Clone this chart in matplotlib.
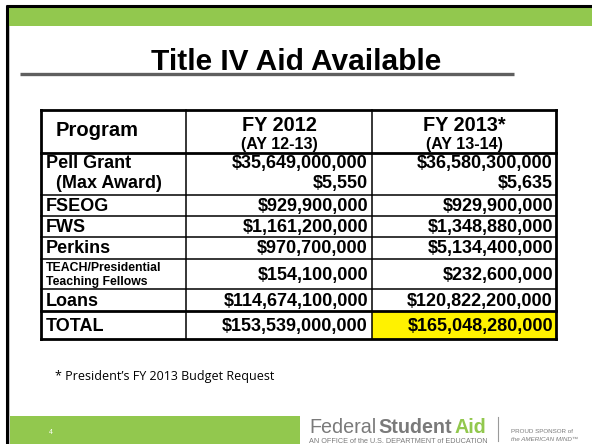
import matplotlib
matplotlib.use("Agg")
import matplotlib.pyplot as plt
from matplotlib.patches import Rectangle

# ---- data ----
title = "Title IV Aid Available"
col_headers = ["Program", "FY 2012", "FY 2013*"]
col_subheaders = ["", "(AY 12-13)", "(AY 13-14)"]
programs = ["Pell Grant", "(Max Award)", "FSEOG", "FWS", "Perkins",
            "TEACH/Presidential\nTeaching Fellows", "Loans", "TOTAL"]
fy2012 = [35649000000, 5550, 929900000, 1161200000, 970700000,
          154100000, 114674100000, 153539000000]
fy2013 = [36580300000, 5635, 929900000, 1348880000, 5134400000,
          232600000, 120822200000, 165048280000]
footnote = "* President\u2019s FY 2013 Budget Request"
page_number = "4"
logo_words = ["Federal", "Student", "Aid"]
logo_caption = "AN OFFICE of the U.S. DEPARTMENT of EDUCATION"
sponsor_lines = ["PROUD SPONSOR of", "the AMERICAN MIND\u2122"]

# ---- layout ----
W, H = 592, 444
GREEN = "#92C84E"
fig = plt.figure(figsize=(W / 100, H / 100), dpi=100)
ax = fig.add_axes([0, 0, 1, 1])
ax.set_xlim(0, W)
ax.set_ylim(H, 0)
ax.axis("off")
fig.canvas.draw()
renderer = fig.canvas.get_renderer()

FONT = "Liberation Sans"


def width_px(t):
    bb = t.get_window_extent(renderer)
    return bb.x1 - bb.x0


def fit_text(x, y, s, target_w, fs0, **kw):
    t = ax.text(x, y, s, fontsize=fs0, **kw)
    w = width_px(t)
    t.set_fontsize(fs0 * target_w / w)
    return t


# slide frame and header band
ax.add_patch(Rectangle((7, 7), W - 7, 19, color=GREEN, lw=0))
ax.plot([6, W], [6, 6], color="black", lw=2.2, solid_capstyle="butt")
ax.plot([7, 7], [5, H], color="black", lw=2.2, solid_capstyle="butt")
ax.plot([9.0, 9.0], [26, H], color="#c0c0c0", lw=0.7)

# title and rule
ax.text(296, 62, title, ha="center", va="center", fontsize=21.5,
        fontweight="bold", family=FONT, color="black")
ax.plot([20, 514], [74, 74], color="#5f5f5f", lw=2.4, solid_capstyle="butt")

# table geometry
x_left, x_c1, x_c2, x_right = 41, 186, 372, 556
y_top, y_head = 110, 153
row_bounds = [153, 195, 216, 237, 259, 289, 311, 339]
text_y = [163, 183, 206, 227, 248, 275, 301, 326]

# yellow total cell
ax.add_patch(Rectangle((x_c2, row_bounds[6]), x_right - x_c2,
                       row_bounds[7] - row_bounds[6], color="#FFF200", lw=0, zorder=1))

thin, thick = 1.1, 2.0
ax.plot([x_left, x_right], [y_top, y_top], color="black", lw=thick, zorder=3)
ax.plot([x_left, x_right], [y_head, y_head], color="black", lw=thick, zorder=3)
for i, yb in enumerate(row_bounds[1:]):
    lw = thick if i in (5, 6) else thin
    ax.plot([x_left, x_right], [yb, yb], color="black", lw=lw, zorder=3)
for xv in (x_left, x_right):
    ax.plot([xv, xv], [y_top, row_bounds[-1]], color="black", lw=thick, zorder=3)
for xv in (x_c1, x_c2):
    ax.plot([xv, xv], [y_top, row_bounds[-1]], color="black", lw=thin, zorder=3)

# header text
ax.text(56, 130, col_headers[0], ha="left", va="center", fontsize=14.5,
        fontweight="bold", family=FONT)
for xc, h, s in [((x_c1 + x_c2) / 2, col_headers[1], col_subheaders[1]),
                 ((x_c2 + x_right) / 2, col_headers[2], col_subheaders[2])]:
    ax.text(xc, 125, h, ha="center", va="center", fontsize=14.3,
            fontweight="bold", family=FONT)
    ax.text(xc, 144, s, ha="center", va="center", fontsize=11.5,
            fontweight="bold", family=FONT)

# body text
for i, (p, v1, v2) in enumerate(zip(programs, fy2012, fy2013)):
    y = text_y[i]
    if "\n" in p:
        ax.text(46, y, p, ha="left", va="center", fontsize=8.8,
                fontweight="bold", family=FONT, linespacing=1.2)
    else:
        xl = 56 if p.startswith("(") else 46
        ax.text(xl, y, p, ha="left", va="center", fontsize=13,
                fontweight="bold", family=FONT)
    ax.text(x_c2 - 4, y, f"${v1:,.0f}", ha="right", va="center",
            fontsize=13, fontweight="bold", family=FONT, zorder=4)
    ax.text(x_right - 3, y, f"${v2:,.0f}", ha="right", va="center",
            fontsize=13, fontweight="bold", family=FONT, zorder=4)

# footnote
ax.text(55, 376, footnote, ha="left", va="center", fontsize=9,
        family="Open Sans", color="black")

# footer
ax.add_patch(Rectangle((9.5, 416), 290, H - 416, color=GREEN, lw=0))
ax.text(49, 432, page_number, ha="left", va="center", fontsize=5,
        color="white", family=FONT)

# logo: fit "Federal Student Aid" into x 309..487
logo_x0, logo_x1, logo_y = 309, 487, 427
styles = [dict(color="#7a7a7a", fontweight="normal"),
          dict(color="#7a7a7a", fontweight="bold"),
          dict(color=GREEN, fontweight="bold")]
fs = 15.0
parts = []
for w, st in zip(logo_words, styles):
    parts.append(ax.text(0, logo_y, w, ha="left", va="center", fontsize=fs,
                         family=FONT, **st))
gap = 2.5
total = sum(width_px(t) for t in parts) + gap * (len(parts) - 1)
scale = (logo_x1 - logo_x0) / total
x = logo_x0
for t in parts:
    t.set_fontsize(fs * scale)
    t.set_x(x)
    x += width_px(t) + gap
fit_text(logo_x0, 441, logo_caption, logo_x1 - logo_x0, 4.0, ha="left",
         va="center", color="#7a7a7a", family=FONT)
ax.plot([498, 498], [417, 441], color="#9a9a9a", lw=0.8)
ax.text(511, 431, sponsor_lines[0], ha="left", va="center", fontsize=4.5,
        color="#7a7a7a", family=FONT)
ax.text(511, 439, sponsor_lines[1], ha="left", va="center", fontsize=4.5,
        color="#7a7a7a", family=FONT, style="italic")

fig.savefig("out.png", dpi=100)
